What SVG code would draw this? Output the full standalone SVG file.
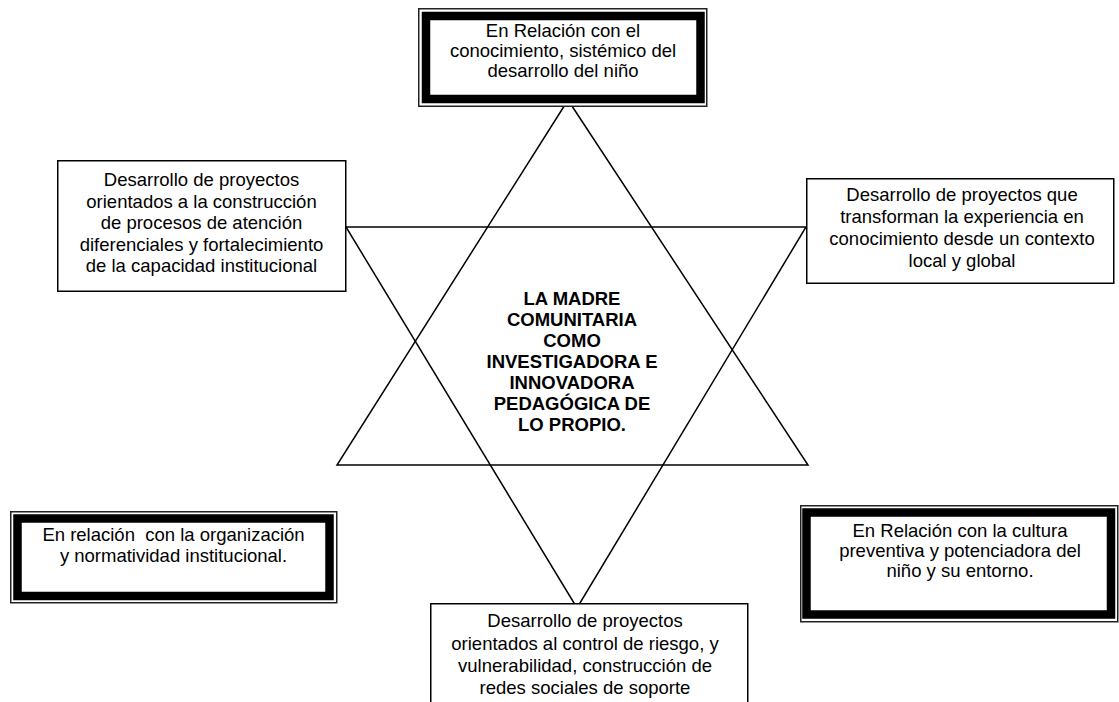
<svg xmlns="http://www.w3.org/2000/svg" width="1119" height="702" viewBox="0 0 1119 702">
<style>
text{font-family:"Liberation Sans",Arial,sans-serif;font-size:18.5px;fill:#000;text-anchor:middle}
.b{font-weight:bold}
.box{fill:#fff;stroke:#000;stroke-width:1.5}
.outer{fill:#fff;stroke:#222;stroke-width:1.5}
.band{fill:#fff;stroke:#000;stroke-width:8.5}
.tri{fill:none;stroke:#000;stroke-width:1.5;stroke-linejoin:miter}
</style>
<rect width="1119" height="702" fill="#fff"/>
<g id="connectors">
<polygon class="tri" points="568,100 337,465 808,465"/>
<polygon class="tri" points="346,227 806,227 577,608"/>
</g>
<g id="center">
<text class="b" x="572" y="305">LA MADRE</text>
<text class="b" x="572" y="326">COMUNITARIA</text>
<text class="b" x="572" y="347">COMO</text>
<text class="b" x="572" y="368">INVESTIGADORA E</text>
<text class="b" x="572" y="389">INNOVADORA</text>
<text class="b" x="572" y="410">PEDAGÓGICA DE</text>
<text class="b" x="572" y="431">LO PROPIO.</text>
</g>
<g id="top">
<rect class="outer" x="418.75" y="8.75" width="288" height="97.5"/>
<rect class="band" x="426" y="16" width="274.5" height="83"/>
<text x="563" y="37">En Relación con el</text>
<text x="563" y="57">conocimiento, sistémico del</text>
<text x="563" y="77">desarrollo del niño</text>
</g>
<g id="left">
<rect class="box" x="57.75" y="160.75" width="288" height="130.5"/>
<text x="201.5" y="186">Desarrollo de proyectos</text>
<text x="201.5" y="207.5">orientados a la construcción</text>
<text x="201.5" y="229">de procesos de atención</text>
<text x="201.5" y="250.5">diferenciales y fortalecimiento</text>
<text x="201.5" y="272">de la capacidad institucional</text>
</g>
<g id="right">
<rect class="box" x="806.75" y="178.75" width="307" height="104.5"/>
<text x="962" y="201">Desarrollo de proyectos que</text>
<text x="962" y="223">transforman la experiencia en</text>
<text x="962" y="245">conocimiento desde un contexto</text>
<text x="962" y="267">local y global</text>
</g>
<g id="bottom-left">
<rect class="outer" x="10.75" y="511.75" width="326" height="91"/>
<rect class="band" x="17.5" y="518.5" width="312" height="77.5"/>
<text x="173.5" y="541" xml:space="preserve">En relación  con la organización</text>
<text x="173.5" y="562">y normatividad institucional.</text>
</g>
<g id="bottom-right">
<rect class="outer" x="800.75" y="505.75" width="317" height="116"/>
<rect class="band" x="806.5" y="512.5" width="304.5" height="102"/>
<text x="960" y="537">En Relación con la cultura</text>
<text x="960" y="557">preventiva y potenciadora del</text>
<text x="960" y="577">niño y su entorno.</text>
</g>
<g id="bottom">
<rect class="box" x="430.75" y="603.75" width="317" height="110"/>
<text x="585" y="627">Desarrollo de proyectos</text>
<text x="585" y="650">orientados al control de riesgo, y</text>
<text x="585" y="672">vulnerabilidad, construcción de</text>
<text x="585" y="694">redes sociales de soporte</text>
</g>
</svg>
